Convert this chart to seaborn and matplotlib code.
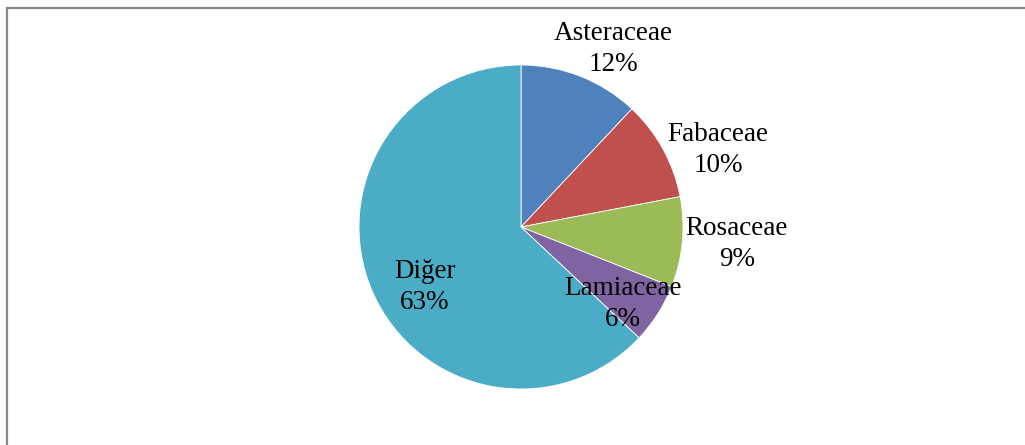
import matplotlib
matplotlib.use("Agg")
import matplotlib.pyplot as plt
import seaborn as sns
from matplotlib.patches import Rectangle

# Data
families = ["Asteraceae", "Fabaceae", "Rosaceae", "Lamiaceae", "Diğer"]
shares = [12, 10, 9, 6, 63]
colors = ["#4F81BD", "#C0504D", "#9BBB59", "#8064A2", "#4BACC6"]
# label positions (pie radius = 1 units)
label_x = [0.568, 1.216, 1.333, 0.630, -0.593]
label_y = [1.099, 0.475, -0.105, -0.475, -0.370]

sns.set_theme(style="white")
plt.rcParams["font.family"] = ["Liberation Serif", "DejaVu Serif"]

W, H = 1025, 445
fig = plt.figure(figsize=(W / 100, H / 100), dpi=100)
ax = fig.add_axes([0, 0, 1, 1])

cx, cy, R = 521, 227, 162
palette = sns.color_palette(colors)
ax.pie(shares, colors=palette, startangle=90, counterclock=False,
       radius=1, center=(0, 0),
       wedgeprops=dict(edgecolor="white", linewidth=0.6))

ax.set_xlim(-cx / R, (W - cx) / R)
ax.set_ylim(-(H - cy) / R, cy / R)
ax.set_aspect("equal")
ax.axis("off")

for name, val, x, y in zip(families, shares, label_x, label_y):
    ax.text(x, y, f"{name}\n{val}%", ha="center", va="center",
            multialignment="center", fontsize=19.5, color="black",
            linespacing=1.28)

# outer frame (cut off at right and bottom)
fig.add_artist(Rectangle((6.5 / W, -0.1), 1.2, (H - 8.5) / H + 0.1,
                         transform=fig.transFigure, fill=False,
                         edgecolor="#878787", linewidth=1.6))

fig.savefig("out.png", dpi=100)
